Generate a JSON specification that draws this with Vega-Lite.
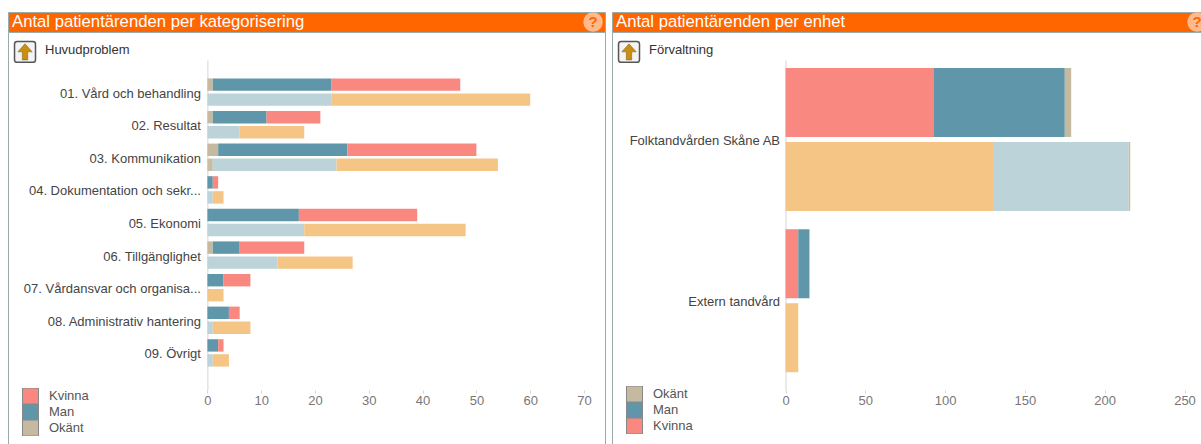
{
"$schema":"https://vega.github.io/schema/vega-lite/v6.json",
"background":"white",
"padding":{"left":7,"top":11,"right":0,"bottom":0},
"spacing":5,
"config":{"font":"Liberation Sans"},
"resolve":{"scale":{"color":"independent","yOffset":"independent"},"legend":{"color":"independent"}},
"datasets":{
"kategori":[
{"kategori":"01. Vård och behandling","period":"Aktuell","serie":"Okänt","kon":"Okänt","antal":1},
{"kategori":"01. Vård och behandling","period":"Aktuell","serie":"Man","kon":"Man","antal":22},
{"kategori":"01. Vård och behandling","period":"Aktuell","serie":"Kvinna","kon":"Kvinna","antal":24},
{"kategori":"01. Vård och behandling","period":"Tidigare","serie":"Man tidigare","kon":"Man","antal":23},
{"kategori":"01. Vård och behandling","period":"Tidigare","serie":"Kvinna tidigare","kon":"Kvinna","antal":37},
{"kategori":"02. Resultat","period":"Aktuell","serie":"Okänt","kon":"Okänt","antal":1},
{"kategori":"02. Resultat","period":"Aktuell","serie":"Man","kon":"Man","antal":10},
{"kategori":"02. Resultat","period":"Aktuell","serie":"Kvinna","kon":"Kvinna","antal":10},
{"kategori":"02. Resultat","period":"Tidigare","serie":"Man tidigare","kon":"Man","antal":6},
{"kategori":"02. Resultat","period":"Tidigare","serie":"Kvinna tidigare","kon":"Kvinna","antal":12},
{"kategori":"03. Kommunikation","period":"Aktuell","serie":"Okänt","kon":"Okänt","antal":2},
{"kategori":"03. Kommunikation","period":"Aktuell","serie":"Man","kon":"Man","antal":24},
{"kategori":"03. Kommunikation","period":"Aktuell","serie":"Kvinna","kon":"Kvinna","antal":24},
{"kategori":"03. Kommunikation","period":"Tidigare","serie":"Okänt tidigare","kon":"Okänt","antal":1},
{"kategori":"03. Kommunikation","period":"Tidigare","serie":"Man tidigare","kon":"Man","antal":23},
{"kategori":"03. Kommunikation","period":"Tidigare","serie":"Kvinna tidigare","kon":"Kvinna","antal":30},
{"kategori":"04. Dokumentation och sekr...","period":"Aktuell","serie":"Man","kon":"Man","antal":1},
{"kategori":"04. Dokumentation och sekr...","period":"Aktuell","serie":"Kvinna","kon":"Kvinna","antal":1},
{"kategori":"04. Dokumentation och sekr...","period":"Tidigare","serie":"Man tidigare","kon":"Man","antal":1},
{"kategori":"04. Dokumentation och sekr...","period":"Tidigare","serie":"Kvinna tidigare","kon":"Kvinna","antal":2},
{"kategori":"05. Ekonomi","period":"Aktuell","serie":"Man","kon":"Man","antal":17},
{"kategori":"05. Ekonomi","period":"Aktuell","serie":"Kvinna","kon":"Kvinna","antal":22},
{"kategori":"05. Ekonomi","period":"Tidigare","serie":"Man tidigare","kon":"Man","antal":18},
{"kategori":"05. Ekonomi","period":"Tidigare","serie":"Kvinna tidigare","kon":"Kvinna","antal":30},
{"kategori":"06. Tillgänglighet","period":"Aktuell","serie":"Okänt","kon":"Okänt","antal":1},
{"kategori":"06. Tillgänglighet","period":"Aktuell","serie":"Man","kon":"Man","antal":5},
{"kategori":"06. Tillgänglighet","period":"Aktuell","serie":"Kvinna","kon":"Kvinna","antal":12},
{"kategori":"06. Tillgänglighet","period":"Tidigare","serie":"Man tidigare","kon":"Man","antal":13},
{"kategori":"06. Tillgänglighet","period":"Tidigare","serie":"Kvinna tidigare","kon":"Kvinna","antal":14},
{"kategori":"07. Vårdansvar och organisa...","period":"Aktuell","serie":"Man","kon":"Man","antal":3},
{"kategori":"07. Vårdansvar och organisa...","period":"Aktuell","serie":"Kvinna","kon":"Kvinna","antal":5},
{"kategori":"07. Vårdansvar och organisa...","period":"Tidigare","serie":"Kvinna tidigare","kon":"Kvinna","antal":3},
{"kategori":"08. Administrativ hantering","period":"Aktuell","serie":"Man","kon":"Man","antal":4},
{"kategori":"08. Administrativ hantering","period":"Aktuell","serie":"Kvinna","kon":"Kvinna","antal":2},
{"kategori":"08. Administrativ hantering","period":"Tidigare","serie":"Man tidigare","kon":"Man","antal":1},
{"kategori":"08. Administrativ hantering","period":"Tidigare","serie":"Kvinna tidigare","kon":"Kvinna","antal":7},
{"kategori":"09. Övrigt","period":"Aktuell","serie":"Man","kon":"Man","antal":2},
{"kategori":"09. Övrigt","period":"Aktuell","serie":"Kvinna","kon":"Kvinna","antal":1},
{"kategori":"09. Övrigt","period":"Tidigare","serie":"Man tidigare","kon":"Man","antal":1},
{"kategori":"09. Övrigt","period":"Tidigare","serie":"Kvinna tidigare","kon":"Kvinna","antal":3}
],
"enhet":[
{"enhet":"Folktandvården Skåne AB","period":"Aktuell","serie":"Kvinna","kon":"Kvinna","antal":93},
{"enhet":"Folktandvården Skåne AB","period":"Aktuell","serie":"Man","kon":"Man","antal":82},
{"enhet":"Folktandvården Skåne AB","period":"Aktuell","serie":"Okänt","kon":"Okänt","antal":4},
{"enhet":"Folktandvården Skåne AB","period":"Tidigare","serie":"Kvinna tidigare","kon":"Kvinna","antal":130},
{"enhet":"Folktandvården Skåne AB","period":"Tidigare","serie":"Man tidigare","kon":"Man","antal":85},
{"enhet":"Folktandvården Skåne AB","period":"Tidigare","serie":"Okänt tidigare","kon":"Okänt","antal":1},
{"enhet":"Extern tandvård","period":"Aktuell","serie":"Kvinna","kon":"Kvinna","antal":8},
{"enhet":"Extern tandvård","period":"Aktuell","serie":"Man","kon":"Man","antal":7},
{"enhet":"Extern tandvård","period":"Tidigare","serie":"Kvinna tidigare","kon":"Kvinna","antal":8}
]
},
"hconcat":[
{"spacing":0,"bounds":"flush","resolve":{"scale":{"color":"independent","yOffset":"independent"},"legend":{"color":"independent"}},"vconcat":[
{"width":597,"height":20,
 "title":{"text":"Antal patientärenden per kategorisering","anchor":"start","frame":"group","color":"white","fontSize":16.7,"fontWeight":"normal","dx":4,"offset":-19},
 "view":{"fill":"#FF6600","stroke":"#9AABAB","strokeWidth":1},
 "data":{"values":[{"hjalp":"?"}]},
 "layer":[
  {"mark":{"type":"point","filled":true,"shape":"circle","size":380,"color":"#FFB98A","opacity":1},
   "encoding":{"x":{"datum":0.98,"type":"quantitative","scale":{"domain":[0,1],"range":[0,597]},"axis":null},"y":{"datum":0.5,"type":"quantitative","scale":{"domain":[0,1],"range":[0,20]},"axis":null}}},
  {"mark":{"type":"text","fontSize":15,"fontWeight":"bold","color":"#FF6600","baseline":"middle","align":"center"},
   "encoding":{"text":{"field":"hjalp"},"x":{"datum":0.98,"type":"quantitative","scale":{"domain":[0,1],"range":[0,597]},"axis":null},"y":{"datum":0.5,"type":"quantitative","scale":{"domain":[0,1],"range":[0,20]},"axis":null}}}
 ]},
{"width":597,"height":414,
 "title":{"text":"Huvudproblem","anchor":"start","frame":"group","color":"#333333","fontSize":13,"fontWeight":"normal","dx":37,"offset":-25},
 "view":{"fill":"white","stroke":"#9AABAB","strokeWidth":1},
 "resolve":{"scale":{"x":"independent","y":"independent"}},
 "layer":[
  {"data":{"name":"kategori"},
   "mark":{"type":"bar"},
   "encoding":{
    "y":{"field":"kategori","type":"nominal","title":null,"scale":{"range":[28,358],"paddingInner":0.16,"paddingOuter":0.641,"align":0.44},
     "axis":{"orient":"left","offset":-199.4,"labelLimit":200,"labelFontSize":13,"labelColor":"#444444","labelPadding":7,"labelOffset":1.5,"ticks":false,"domainColor":"#D5D5D5","domainWidth":1}},
    "yOffset":{"field":"period","type":"nominal","sort":["Aktuell","Tidigare"],"scale":{"range":[0,27.4],"paddingInner":0.173,"paddingOuter":0}},
    "x":{"field":"antal","type":"quantitative","stack":"zero","title":null,"scale":{"domain":[0,70],"nice":false,"range":[199.4,576]},
     "axis":{"orient":"bottom","offset":-56,"values":[0,10,20,30,40,50,60,70],"grid":false,"domain":false,"labelFlush":false,"tickSize":3,"tickColor":"#D5D5D5","labelFontSize":13,"labelColor":"#777777","labelPadding":1}},
    "order":{"field":"kon","sort":"descending"},
    "color":{"field":"serie","type":"nominal","scale":{"domain":["Kvinna","Man","Okänt","Kvinna tidigare","Man tidigare","Okänt tidigare"],"range":["#F98880","#5F96A9","#C5B9A0","#F5C586","#BDD3DA","#C8BDA5"]},
     "legend":{"orient":"none","legendX":14,"legendY":356,"title":null,"values":["Kvinna","Man","Okänt"],"symbolType":"square","symbolSize":256,"symbolStrokeColor":"#888888","symbolStrokeWidth":1,"rowPadding":0,"clipHeight":16,"labelFontSize":13,"labelColor":"#555555","labelOffset":10}}
   }},
  {"data":{"values":[{"ikon":"upp"}]},
   "mark":{"type":"point","filled":true,"fill":"#F4F4F4","stroke":"#555555","strokeWidth":1.5,"opacity":1,"size":440,"shape":"M-0.75,-1H0.75Q1,-1,1,-0.75V0.75Q1,1,0.75,1H-0.75Q-1,1,-1,0.75V-0.75Q-1,-1,-0.75,-1Z"},
   "encoding":{"x":{"datum":0.0285,"type":"quantitative","scale":{"domain":[0,1],"range":[0,597]},"axis":null},"y":{"datum":0.048,"type":"quantitative","scale":{"domain":[0,1],"range":[0,414]},"axis":null}}},
  {"data":{"values":[{"ikon":"upp"}]},
   "mark":{"type":"point","filled":true,"fill":"#C98F12","stroke":"#7A5A10","strokeWidth":0.5,"opacity":1,"size":320,"shape":"M0,-0.9L0.8,0H0.3V0.9H-0.3V0H-0.8Z"},
   "encoding":{"x":{"datum":0.0285,"type":"quantitative","scale":{"domain":[0,1],"range":[0,597]},"axis":null},"y":{"datum":0.048,"type":"quantitative","scale":{"domain":[0,1],"range":[0,414]},"axis":null}}}
 ]}
]},
{"spacing":0,"bounds":"flush","resolve":{"scale":{"color":"independent","yOffset":"independent"},"legend":{"color":"independent"}},"vconcat":[
{"width":597,"height":20,
 "title":{"text":"Antal patientärenden per enhet","anchor":"start","frame":"group","color":"white","fontSize":16.7,"fontWeight":"normal","dx":4,"offset":-19},
 "view":{"fill":"#FF6600","stroke":"#9AABAB","strokeWidth":1},
 "data":{"values":[{"hjalp":"?"}]},
 "layer":[
  {"mark":{"type":"point","filled":true,"shape":"circle","size":380,"color":"#FFB98A","opacity":1},
   "encoding":{"x":{"datum":0.98,"type":"quantitative","scale":{"domain":[0,1],"range":[0,597]},"axis":null},"y":{"datum":0.5,"type":"quantitative","scale":{"domain":[0,1],"range":[0,20]},"axis":null}}},
  {"mark":{"type":"text","fontSize":15,"fontWeight":"bold","color":"#FF6600","baseline":"middle","align":"center"},
   "encoding":{"text":{"field":"hjalp"},"x":{"datum":0.98,"type":"quantitative","scale":{"domain":[0,1],"range":[0,597]},"axis":null},"y":{"datum":0.5,"type":"quantitative","scale":{"domain":[0,1],"range":[0,20]},"axis":null}}}
 ]},
{"width":597,"height":414,
 "title":{"text":"Förvaltning","anchor":"start","frame":"group","color":"#333333","fontSize":13,"fontWeight":"normal","dx":37,"offset":-25},
 "view":{"fill":"white","stroke":"#9AABAB","strokeWidth":1},
 "resolve":{"scale":{"x":"independent","y":"independent"}},
 "layer":[
  {"data":{"name":"enhet"},
   "mark":{"type":"bar"},
   "encoding":{
    "y":{"field":"enhet","type":"nominal","sort":["Folktandvården Skåne AB","Extern tandvård"],"title":null,"scale":{"range":[28,358],"paddingInner":0.1135,"paddingOuter":0.0797,"align":0.31},
     "axis":{"orient":"left","offset":-173.5,"labelLimit":200,"labelFontSize":13,"labelColor":"#444444","labelPadding":6,"labelOffset":1.5,"ticks":false,"domainColor":"#D5D5D5","domainWidth":1}},
    "yOffset":{"field":"period","type":"nominal","sort":["Aktuell","Tidigare"],"scale":{"range":[0,143],"paddingInner":0.0676,"paddingOuter":0}},
    "x":{"field":"antal","type":"quantitative","stack":"zero","title":null,"scale":{"domain":[0,250],"nice":false,"range":[173.5,572.5]},
     "axis":{"orient":"bottom","offset":-56,"values":[0,50,100,150,200,250],"grid":false,"domain":false,"labelFlush":false,"tickSize":3,"tickColor":"#D5D5D5","labelFontSize":13,"labelColor":"#777777","labelPadding":1}},
    "order":{"field":"kon","sort":"ascending"},
    "color":{"field":"serie","type":"nominal","scale":{"domain":["Okänt","Man","Kvinna","Okänt tidigare","Man tidigare","Kvinna tidigare"],"range":["#C5B9A0","#5F96A9","#F98880","#C8BDA5","#BDD3DA","#F5C586"]},
     "legend":{"orient":"none","legendX":14,"legendY":354,"title":null,"values":["Okänt","Man","Kvinna"],"symbolType":"square","symbolSize":256,"symbolStrokeColor":"#888888","symbolStrokeWidth":1,"rowPadding":0,"clipHeight":16,"labelFontSize":13,"labelColor":"#555555","labelOffset":10}}
   }},
  {"data":{"values":[{"ikon":"upp"}]},
   "mark":{"type":"point","filled":true,"fill":"#F4F4F4","stroke":"#555555","strokeWidth":1.5,"opacity":1,"size":440,"shape":"M-0.75,-1H0.75Q1,-1,1,-0.75V0.75Q1,1,0.75,1H-0.75Q-1,1,-1,0.75V-0.75Q-1,-1,-0.75,-1Z"},
   "encoding":{"x":{"datum":0.0285,"type":"quantitative","scale":{"domain":[0,1],"range":[0,597]},"axis":null},"y":{"datum":0.048,"type":"quantitative","scale":{"domain":[0,1],"range":[0,414]},"axis":null}}},
  {"data":{"values":[{"ikon":"upp"}]},
   "mark":{"type":"point","filled":true,"fill":"#C98F12","stroke":"#7A5A10","strokeWidth":0.5,"opacity":1,"size":320,"shape":"M0,-0.9L0.8,0H0.3V0.9H-0.3V0H-0.8Z"},
   "encoding":{"x":{"datum":0.0285,"type":"quantitative","scale":{"domain":[0,1],"range":[0,597]},"axis":null},"y":{"datum":0.048,"type":"quantitative","scale":{"domain":[0,1],"range":[0,414]},"axis":null}}}
 ]}
]}
]
}
